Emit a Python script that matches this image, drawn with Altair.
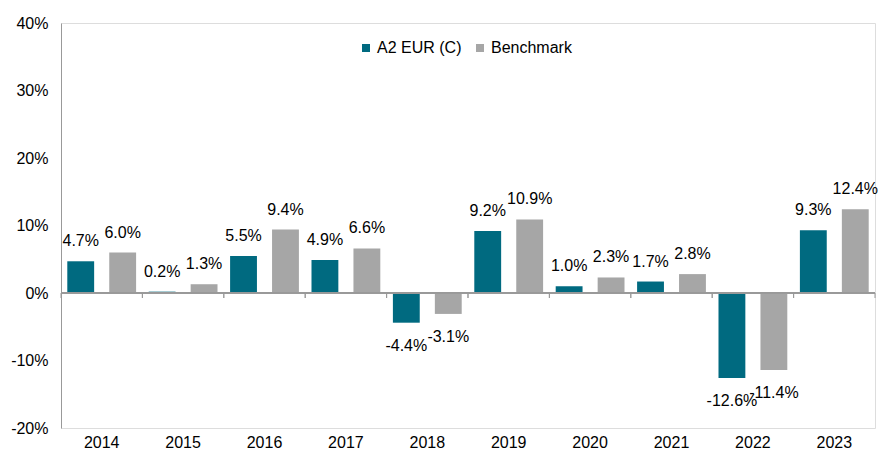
import altair as alt
import pandas as pd

years = ["2014", "2015", "2016", "2017", "2018", "2019", "2020", "2021", "2022", "2023"]
fund_name = "A2 EUR (C)"
bench_name = "Benchmark"
fund_values = [4.7, 0.2, 5.5, 4.9, -4.4, 9.2, 1.0, 1.7, -12.6, 9.3]
bench_values = [6.0, 1.3, 9.4, 6.6, -3.1, 10.9, 2.3, 2.8, -11.4, 12.4]
y_ticks = [-20, -10, 0, 10, 20, 30, 40]

rows = []
for i, y in enumerate(years):
    rows.append({"year": y, "series": fund_name, "value": fund_values[i]})
    rows.append({"year": y, "series": bench_name, "value": bench_values[i]})
df = pd.DataFrame(rows)
years_df = pd.DataFrame({"year": years})

FONT = "Liberation Sans"
TEAL = "#006a80"
GREY = "#a6a6a6"
LINE = "#999999"

x_enc = alt.X("year:N", sort=years,
              scale=alt.Scale(paddingInner=0, paddingOuter=0),
              axis=alt.Axis(title=None, domain=False, ticks=False, labelAngle=0,
                            labelPadding=6, labelFontSize=16, labelFont=FONT,
                            labelColor="#000000"))
xo_enc = alt.XOffset("series:N", sort=[fund_name, bench_name],
                     scale=alt.Scale(paddingInner=0.36, paddingOuter=0.15))
y_scale = alt.Scale(domain=[-20, 40], nice=False)

bars = alt.Chart(df).mark_bar().encode(
    x=x_enc,
    xOffset=xo_enc,
    y=alt.Y("value:Q", scale=y_scale,
            axis=alt.Axis(title=None, values=y_ticks, labelExpr="datum.value + '%'",
                          grid=False, ticks=False, domainColor=LINE, labelPadding=13,
                          labelFontSize=16, labelFont=FONT, labelColor="#000000")),
    color=alt.Color("series:N",
                    scale=alt.Scale(domain=[fund_name, bench_name], range=[TEAL, GREY]),
                    legend=alt.Legend(title=None, orient="none", legendX=297, legendY=17,
                                      direction="horizontal", symbolType="square",
                                      symbolSize=64, symbolStrokeWidth=0,
                                      labelFontSize=16, labelFont=FONT, labelColor="#000000",
                                      labelOffset=3, columnPadding=10, padding=0)),
)

label_expr = "(datum.value < 0 ? '-' : '') + format(abs(datum.value), '.1f') + '%'"

pos_text = alt.Chart(df).transform_filter("datum.value >= 0").transform_calculate(
    label=label_expr
).mark_text(baseline="alphabetic", dy=-15, fontSize=16, font=FONT, color="#000000").encode(
    x=alt.X("year:N", sort=years), xOffset=xo_enc,
    y=alt.Y("value:Q", scale=y_scale), text="label:N"
)

neg_text = alt.Chart(df).transform_filter("datum.value < 0").transform_calculate(
    label=label_expr
).mark_text(baseline="alphabetic", dy=28, fontSize=16, font=FONT, color="#000000").encode(
    x=alt.X("year:N", sort=years), xOffset=xo_enc,
    y=alt.Y("value:Q", scale=y_scale), text="label:N"
)

zero_line = alt.Chart(years_df).mark_rule(color=LINE, strokeWidth=1).encode(
    y=alt.datum(0)
)

ticks_start = alt.Chart(years_df).mark_rule(color=LINE, strokeWidth=1, y2Offset=5).encode(
    x=alt.X("year:N", sort=years, bandPosition=0),
    y=alt.datum(0), y2=alt.datum(0)
)
ticks_end = alt.Chart(years_df).mark_rule(color=LINE, strokeWidth=1, y2Offset=5).encode(
    x=alt.X("year:N", sort=years, bandPosition=1),
    y=alt.datum(0), y2=alt.datum(0)
)

chart = alt.layer(bars, zero_line, ticks_start, ticks_end, pos_text, neg_text).properties(
    width=814, height=405,
    autosize=alt.AutoSizeParams(type="none"),
    padding={"left": 53, "top": 15, "right": 4, "bottom": 24},
).configure_view(stroke=None).configure(font=FONT)

chart.save("out.html", embed_options={"renderer": "svg", "actions": False})
